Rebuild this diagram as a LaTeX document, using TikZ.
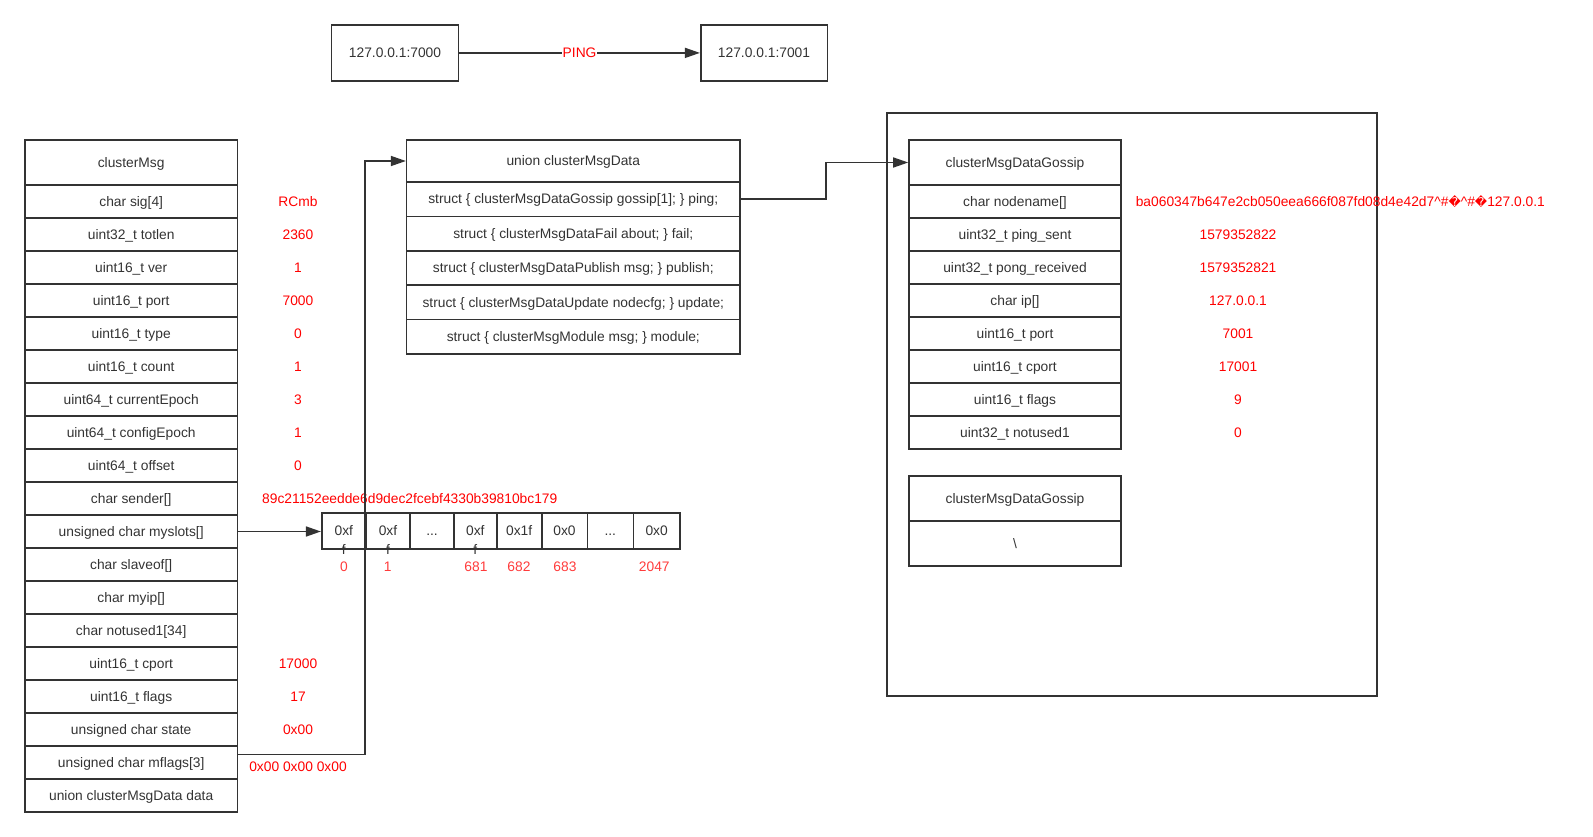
\documentclass[tikz,border=0pt]{standalone}
\usepackage{fontspec}
\setmainfont{Liberation Sans}
\newfontfamily\dejavu{DejaVu Sans}
\usetikzlibrary{arrows.meta,calc}
\definecolor{ink}{HTML}{333333}
\definecolor{val}{HTML}{FF0000}
\definecolor{idx}{HTML}{FF3B3B}
\tikzset{
  txt/.style={inner sep=0pt, font=\fontsize{13.8}{16}\selectfont, text height=10.6pt, text depth=1.2pt},
  box/.style={txt, draw=ink, line width=1.6pt, text=ink, anchor=center},
  valtxt/.style={txt, text=val},
  idxtxt/.style={txt, text=idx},
  conn/.style={draw=ink, line width=1.6pt, -{Triangle[length=15pt,width=10pt]}},
}
\begin{document}
\begin{tikzpicture}[x=1pt,y=-1pt]
\useasboundingbox (0,0) rectangle (1593,837);

% top ping
\node[box, minimum width=127pt, minimum height=55.7pt] (n7000) at (395,52.9) {127.0.0.1:7000};
\node[box, minimum width=126.6pt, minimum height=55.7pt] (n7001) at (764,52.9) {127.0.0.1:7001};
\draw[conn] (n7000) -- node[txt, fill=white, text=val, inner sep=1pt] {PING} (n7001);

% clusterMsg
\tikzset{cmrow/.style={box, minimum width=212.3pt, minimum height=33pt}}
\node[box, minimum width=212.3pt, minimum height=45pt] (cm) at (131.2,162.5) {clusterMsg};
\node[cmrow] (sig) at (131.2,201.5) {char sig[4]};
\node[cmrow] (totlen) at (131.2,234.5) {uint32\_t totlen};
\node[cmrow] (ver) at (131.2,267.5) {uint16\_t ver};
\node[cmrow] (port) at (131.2,300.5) {uint16\_t port};
\node[cmrow] (type) at (131.2,333.5) {uint16\_t type};
\node[cmrow] (count) at (131.2,366.5) {uint16\_t count};
\node[cmrow] (cepoch) at (131.2,399.5) {uint64\_t currentEpoch};
\node[cmrow] (cfgepoch) at (131.2,432.5) {uint64\_t configEpoch};
\node[cmrow] (offset) at (131.2,465.5) {uint64\_t offset};
\node[cmrow] (sender) at (131.2,498.5) {char sender[]};
\node[cmrow] (myslots) at (131.2,531.5) {unsigned char myslots[]};
\node[cmrow] (slaveof) at (131.2,564.5) {char slaveof[]};
\node[cmrow] (myip) at (131.2,597.5) {char myip[]};
\node[cmrow] (notused) at (131.2,630.5) {char notused1[34]};
\node[cmrow] (cport) at (131.2,663.5) {uint16\_t cport};
\node[cmrow] (flags) at (131.2,696.5) {uint16\_t flags};
\node[cmrow] (state) at (131.2,729.5) {unsigned char state};
\node[cmrow] (mflags) at (131.2,762.5) {unsigned char mflags[3]};
\node[cmrow] (data) at (131.2,795.5) {union clusterMsgData data};

% clusterMsg values
\node[valtxt] (vsig) at (298,201.5) {RCmb};
\node[valtxt] (vtotlen) at (298,234.5) {2360};
\node[valtxt] (vver) at (298,267.5) {1};
\node[valtxt] (vport) at (298,300.5) {7000};
\node[valtxt] (vtype) at (298,333.5) {0};
\node[valtxt] (vcount) at (298,366.5) {1};
\node[valtxt] (vcepoch) at (298,399.5) {3};
\node[valtxt] (vcfgepoch) at (298,432.5) {1};
\node[valtxt] (voffset) at (298,465.5) {0};
\node[valtxt, anchor=west] (vsender) at (262,498.5) {89c21152eedde6d9dec2fcebf4330b39810bc179};
\node[valtxt] (vcport) at (298,663.5) {17000};
\node[valtxt] (vflags) at (298,696.5) {17};
\node[valtxt] (vstate) at (298,729.5) {0x00};
\node[valtxt] (vmflags) at (298,766.7) {0x00 0x00 0x00};

% union clusterMsgData
\tikzset{unrow/.style={box, minimum width=333.3pt, minimum height=34.4pt}}
\node[box, minimum width=333.3pt, minimum height=42pt] (unionhdr) at (573.3,161) {union clusterMsgData};
\node[unrow] (ping) at (573.3,199.2) {struct \{ clusterMsgDataGossip gossip[1]; \} ping;};
\node[unrow] (fail) at (573.3,233.6) {struct \{ clusterMsgDataFail about; \} fail;};
\node[unrow] (publish) at (573.3,268) {struct \{ clusterMsgDataPublish msg; \} publish;};
\node[unrow] (update) at (573.3,302.4) {struct \{ clusterMsgDataUpdate nodecfg; \} update;};
\node[unrow] (module) at (573.3,336.8) {struct \{ clusterMsgModule msg; \} module;};

% outer gossip container
\node[box, minimum width=490.2pt, minimum height=583.3pt] (outer) at (1131.9,404.4) {};

% gossip 1
\tikzset{gsrow/.style={box, minimum width=212pt, minimum height=33pt}}
\node[box, minimum width=212pt, minimum height=45pt] (ghdr) at (1015,162.5) {clusterMsgDataGossip};
\node[gsrow] (gname) at (1015,201.5) {char nodename[]};
\node[gsrow] (gsent) at (1015,234.5) {uint32\_t ping\_sent};
\node[gsrow] (grecv) at (1015,267.5) {uint32\_t pong\_received};
\node[gsrow] (gip) at (1015,300.5) {char ip[]};
\node[gsrow] (gport) at (1015,333.5) {uint16\_t port};
\node[gsrow] (gcport) at (1015,366.5) {uint16\_t cport};
\node[gsrow] (gflags) at (1015,399.5) {uint16\_t flags};
\node[gsrow] (gnotused) at (1015,432.5) {uint32\_t notused1};

\node[valtxt, anchor=west] (vgname) at (1135.6,201.5) {ba060347b647e2cb050eea666f087fd08d4e42d7\textasciicircum\#{\dejavu\fontsize{12}{14}\selectfont �}\textasciicircum\#{\dejavu\fontsize{12}{14}\selectfont �}127.0.0.1};
\node[valtxt] (vgsent) at (1238,234.5) {1579352822};
\node[valtxt] (vgrecv) at (1238,267.5) {1579352821};
\node[valtxt] (vgip) at (1238,300.5) {127.0.0.1};
\node[valtxt] (vgport) at (1238,333.5) {7001};
\node[valtxt] (vgcport) at (1238,366.5) {17001};
\node[valtxt] (vgflags) at (1238,399.5) {9};
\node[valtxt] (vgnotused) at (1238,432.5) {0};

% gossip 2
\node[box, minimum width=212pt, minimum height=45.3pt] (g2hdr) at (1015,498.4) {clusterMsgDataGossip};
\node[box, minimum width=212pt, minimum height=44.7pt] (g2row) at (1015,543.4) {\textbackslash};

% myslots array
\tikzset{cell/.style={box, minimum height=36pt}}
\node[cell, minimum width=44.3pt] (a0) at (343.85,531) {0xf};
\node[cell, minimum width=44pt] (a1) at (388,531) {0xf};
\node[cell, minimum width=44pt] (a2) at (432,531) {...};
\node[cell, minimum width=42.7pt] (a3) at (475.35,531) {0xf};
\node[cell, minimum width=45pt] (a4) at (519.2,531) {0x1f};
\node[cell, minimum width=45.6pt] (a5) at (564.5,531) {0x0};
\node[cell, minimum width=46pt] (a6) at (610.3,531) {...};
\node[cell, minimum width=46.7pt] (a7) at (656.65,531) {0x0};
\node[txt, text=ink] (f0) at (343.85,550) {f};
\node[txt, text=ink] (f1) at (388,550) {f};
\node[txt, text=ink] (f3) at (475.35,550) {f};

\node[idxtxt] (i0) at (344,566.7) {0};
\node[idxtxt] (i1) at (387.7,566.7) {1};
\node[idxtxt] (i681) at (476,566.7) {681};
\node[idxtxt] (i682) at (519,566.7) {682};
\node[idxtxt] (i683) at (565,566.7) {683};
\node[idxtxt] (i2047) at (654.3,566.7) {2047};

% connectors
\draw[conn] (myslots.east) -- (myslots.east -| a0.west);
\draw[conn] ([yshift=8pt]mflags.east) -| ($(unionhdr.west)+(-40.7,0)$) -- (unionhdr.west);
\draw[conn] (ping.east) -- ++(85,0) |- (ghdr.west);
\end{tikzpicture}
\end{document}
